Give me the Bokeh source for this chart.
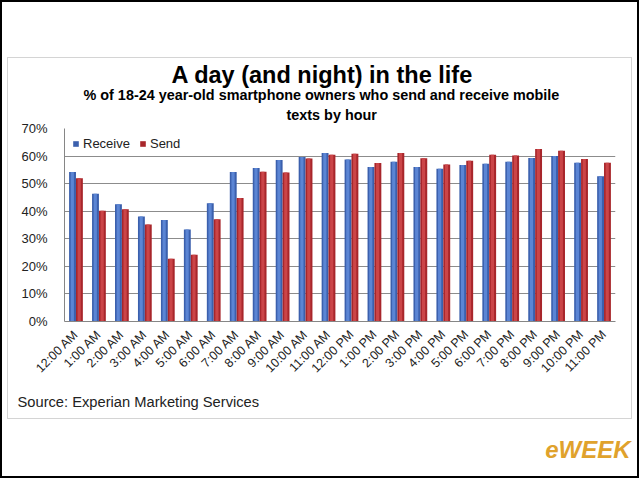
from math import pi
from bokeh.plotting import figure
from bokeh.models import (FactorRange, Range1d, FixedTicker, PrintfTickFormatter,
                          Title, ColumnDataSource, InlineStyleSheet)
from bokeh.transform import dodge
from bokeh.embed import file_html
from bokeh.resources import INLINE

hours = ["12:00 AM", "1:00 AM", "2:00 AM", "3:00 AM", "4:00 AM", "5:00 AM",
         "6:00 AM", "7:00 AM", "8:00 AM", "9:00 AM", "10:00 AM", "11:00 AM",
         "12:00 PM", "1:00 PM", "2:00 PM", "3:00 PM", "4:00 PM", "5:00 PM",
         "6:00 PM", "7:00 PM", "8:00 PM", "9:00 PM", "10:00 PM", "11:00 PM"]
receive = [54.2, 46.3, 42.5, 38.1, 36.8, 33.4, 42.9, 54.2, 55.7, 58.6, 59.7, 61.1,
           58.8, 56.0, 57.9, 56.0, 55.4, 56.8, 57.2, 57.9, 59.3, 60.0, 57.6, 52.7]
send = [52.0, 40.2, 40.7, 35.2, 22.8, 24.2, 37.1, 44.8, 54.3, 54.0, 59.1, 60.5,
        60.8, 57.5, 61.1, 59.2, 56.9, 58.3, 60.5, 60.2, 62.6, 61.9, 58.9, 57.6]
y_ticks = [0, 10, 20, 30, 40, 50, 60, 70]

title = "A day (and night) in the life"
subtitle1 = "% of 18-24 year-old smartphone owners who send and receive mobile"
subtitle2 = "texts by hour"
source_note = "Source: Experian Marketing Services"

FONT = "Liberation Sans"
W, H = 640, 480
FL, FR, FT, FB = 64, 615, 128, 321   # frame edges in page pixels

src = ColumnDataSource(data=dict(hours=hours, receive=receive, send=send))

css = """
:host::before { content: ""; position: absolute; left: 0px; top: 0px;
  width: 639px; height: 478px; border: 2.5px solid #000000;
  box-sizing: border-box; pointer-events: none; z-index: 10; }
:host::after { content: ""; position: absolute; left: 7px; top: 57px;
  width: 625px; height: 362px; border: 1.5px solid #D4D4D4;
  box-sizing: border-box; pointer-events: none; z-index: 10; }
"""

p = figure(x_range=FactorRange(*hours), y_range=Range1d(0, 70),
           width=W, height=H, output_backend="svg", toolbar_location=None,
           min_border_left=FL, min_border_right=W - FR, min_border_top=FT,
           min_border_bottom=H - FB, background_fill_color="white",
           border_fill_color="white", outline_line_color=None,
           stylesheets=[InlineStyleSheet(css=css)])
p.x_range.range_padding = 0

# bars (base + highlight to mimic the bevelled look)
p.vbar(x=dodge("hours", -0.15, range=p.x_range), top="receive", width=0.3,
       source=src, fill_color="#3B60AD", line_color=None, legend_label="Receive")
p.vbar(x=dodge("hours", -0.16, range=p.x_range), top="receive", width=0.14,
       source=src, fill_color="#5B85D4", line_color=None)
p.vbar(x=dodge("hours", 0.15, range=p.x_range), top="send", width=0.3,
       source=src, fill_color="#A8262B", line_color=None, legend_label="Send")
p.vbar(x=dodge("hours", 0.14, range=p.x_range), top="send", width=0.14,
       source=src, fill_color="#CB4548", line_color=None)

# axes
p.yaxis.ticker = FixedTicker(ticks=y_ticks)
p.yaxis.formatter = PrintfTickFormatter(format="%d%%")
p.yaxis.axis_line_color = "#868686"
p.yaxis.major_tick_line_color = None
p.yaxis.minor_tick_line_color = None
p.yaxis.major_label_text_font = FONT
p.yaxis.major_label_text_font_size = "13px"
p.yaxis.major_label_text_color = "#222222"
p.yaxis.major_label_standoff = 11

p.xaxis.axis_line_color = "#868686"
p.xaxis.major_tick_line_color = None
p.xaxis.major_label_orientation = pi / 4
p.xaxis.major_label_text_font = FONT
p.xaxis.major_label_text_font_size = "12.5px"
p.xaxis.major_label_text_color = "#222222"
p.xaxis.major_label_standoff = 5

p.xgrid.grid_line_color = None
p.ygrid.grid_line_color = "#8C8C8C"

# legend
lg = p.legend[0]
lg.location = "top_left"
lg.orientation = "horizontal"
lg.background_fill_alpha = 0
lg.border_line_color = None
lg.margin = 8
lg.padding = 2
lg.spacing = 9
lg.glyph_width = 7
lg.glyph_height = 7
lg.label_standoff = 4
lg.label_text_font = FONT
lg.label_text_font_size = "13px"
lg.label_text_color = "#222222"

def ttl(s, size, style="normal", align="left", offset=0, standoff=0, color="black"):
    return Title(text=s, text_font=FONT, text_font_size=size, text_font_style=style,
                 align=align, offset=offset, standoff=standoff, text_color=color)

# above: first added sits closest to the frame
p.add_layout(ttl(subtitle2, "14.4px", "bold", offset=222, standoff=11), "above")
p.add_layout(ttl(subtitle1, "14.4px", "bold", offset=19, standoff=-6), "above")
p.add_layout(ttl(title, "23.5px", "bold", offset=107, standoff=-1), "above")
# below: after the x axis
p.add_layout(ttl(source_note, "14.7px", offset=-47, standoff=16,
                 color="#222222"), "below")
p.add_layout(ttl("eWEEK", "24px", "bold italic", align="right", offset=-15,
                 standoff=33, color="#E0A22C"), "below")

open("out.html", "w").write(file_html(p, INLINE))
